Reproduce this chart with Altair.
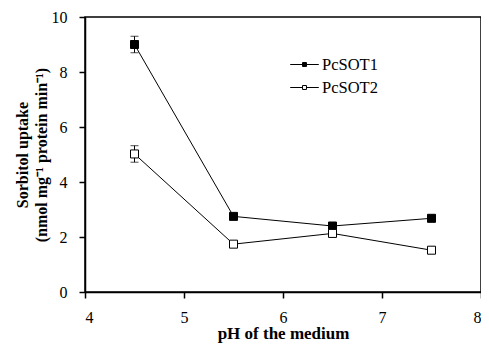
import altair as alt
import pandas as pd

ph = [4.5, 5.5, 6.5, 7.5]
sot1 = [9.0, 2.75, 2.4, 2.68]
sot1_err = [0.3, 0.08, 0.08, 0.12]
sot2 = [5.02, 1.74, 2.13, 1.52]
sot2_err = [0.3, 0.08, 0.1, 0.08]
series = ["PcSOT1", "PcSOT2"]
x_domain = [4, 8]
y_domain = [0, 10]
x_ticks = [4, 5, 6, 7, 8]
y_ticks = [0, 2, 4, 6, 8, 10]

rows = []
for name, vals, errs in [("PcSOT1", sot1, sot1_err), ("PcSOT2", sot2, sot2_err)]:
    for x, v, e in zip(ph, vals, errs):
        rows.append({"pH": x, "uptake": v, "lo": v - e, "hi": v + e, "series": name})
df = pd.DataFrame(rows)
frame_df = pd.DataFrame({"x1": [x_domain[0]], "x2": [x_domain[1]],
                         "y1": [y_domain[0]], "y2": [y_domain[1]]})

FONT = "Liberation Serif"
xs = alt.Scale(domain=x_domain, nice=False)
ys = alt.Scale(domain=y_domain, nice=False)
ax_x = alt.Axis(values=x_ticks, title="pH of the medium", format="d", titleFontSize=17)
ax_y = alt.Axis(values=y_ticks, title=["Sorbitol uptake", "(nmol mg⁻¹ protein min⁻¹)"])


def X(field):
    return alt.X(field, type="quantitative", scale=xs, axis=ax_x)


def Y(field):
    return alt.Y(field, type="quantitative", scale=ys, axis=ax_y)


base = alt.Chart(df)

lines = base.mark_line(color="black", strokeWidth=1).encode(
    x=X("pH"), y=Y("uptake"), detail="series:N")

frame = alt.Chart(frame_df).mark_rect(fill="white", fillOpacity=0, stroke="black",
                                      strokeWidth=1.5).encode(
    x=X("x1"), x2="x2:Q", y=Y("y1"), y2="y2:Q")

err = base.mark_rule(color="black", strokeWidth=1).encode(
    x=X("pH"), y=Y("lo"), y2="hi:Q")
cap_hi = base.mark_tick(color="black", thickness=1, size=8, orient="horizontal").encode(
    x=X("pH"), y=Y("hi"))
cap_lo = base.mark_tick(color="black", thickness=1, size=8, orient="horizontal").encode(
    x=X("pH"), y=Y("lo"))

pts = base.mark_point(shape="square", size=64, filled=True, stroke="black",
                      strokeWidth=1, opacity=1).encode(
    x=X("pH"), y=Y("uptake"),
    fill=alt.Fill("series:N",
                  scale=alt.Scale(domain=series, range=["black", "white"]),
                  legend=alt.Legend(
                      title=None, orient="none", legendX=208, legendY=36,
                      symbolType="M-1.3,0H-0.18M0.18,0H1.3M-0.18,-0.18H0.18V0.18H-0.18Z",
                      symbolSize=484, symbolStrokeColor="black",
                      symbolStrokeWidth=1, labelFont=FONT, labelFontSize=16.5,
                      labelColor="black", rowPadding=3, labelOffset=6)))

chart = alt.layer(lines, frame, err, cap_hi, cap_lo, pts).properties(
    width=396, height=275,
    autosize=alt.AutoSizeParams(type="none"),
    padding={"left": 77, "top": 9, "right": 0, "bottom": 51},
).configure(font=FONT).configure_view(stroke=None).configure_axis(
    grid=False, domainColor="black", domainWidth=1.5, tickColor="black",
    tickWidth=1.5, tickSize=6, labelFont=FONT, labelFontSize=16,
    labelColor="black", titleFont=FONT, titleFontSize=16, titleFontWeight="bold",
    titleColor="black",
).configure_axisX(labelPadding=11, titlePadding=0).configure_axisY(
    labelPadding=12, titlePadding=2, titleLineHeight=19)

chart.save("out.html", embed_options={"renderer": "svg", "actions": False})
